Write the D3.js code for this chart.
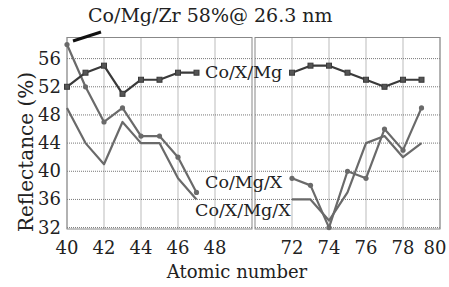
<!DOCTYPE html>
<html>
<head>
<meta charset="utf-8">
<script src="https://cdn.jsdelivr.net/npm/d3@7"></script>
<style>
  body { margin: 0; background: #fff; }
  text { font-family: "DejaVu Serif", "Liberation Serif", serif; fill: #222; }
</style>
</head>
<body>
<svg id="chart" width="449" height="287"></svg>
<script>
// data
const leftZ = [40, 41, 42, 43, 44, 45, 46, 47];
const rightZ = [72, 73, 74, 75, 76, 77, 78, 79];
const coXMgLeft = [52, 54, 55, 51, 53, 53, 54, 54];
const coXMgRight = [54, 55, 55, 54, 53, 52, 53, 53];
const coMgXLeft = [58, 52, 47, 49, 45, 45, 42, 37];
const coMgXRight = [39, 38, 32, 40, 39, 46, 43, 49];
const coXMgXLeft = [49, 44, 41, 47, 44, 44, 39, 36];
const coXMgXRight = [36, 36, 33, 37, 44, 45, 42, 44];
const yTicks = [32, 36, 40, 44, 48, 52, 56];
const leftTicks = [40, 42, 44, 46, 48];
const rightTicks = [72, 74, 76, 78, 80];

const svg = d3.select("#chart");
const W = 449;
const plotTop = 37.5, plotBottom = 229;
const y = d3.scaleLinear().domain([31.8, 59]).range([plotBottom, plotTop]);
const xl = d3.scaleLinear().domain([40, 50]).range([67, 252]);
const xr = d3.scaleLinear().domain([70, 80]).range([255, 440]);

const panels = [
  { x: xl, ticks: leftTicks, z: leftZ, series: [coXMgXLeft, coMgXLeft, coXMgLeft] },
  { x: xr, ticks: rightTicks, z: rightZ, series: [coXMgXRight, coMgXRight, coXMgRight] }
];

const styles = [
  { color: "#6a6a6a", marker: null },
  { color: "#6a6a6a", marker: "circle" },
  { color: "#3a3a3a", marker: "square" }
];

panels.forEach(p => {
  const g = svg.append("g");
  const [x0, x1] = p.x.range();
  // grid
  g.selectAll(".hg").data(yTicks).join("line")
    .attr("x1", x0).attr("x2", x1)
    .attr("y1", d => y(d)).attr("y2", d => y(d))
    .attr("stroke", "#777").attr("stroke-width", 1).attr("stroke-dasharray", "1,1");
  g.selectAll(".vg").data(p.ticks).join("line")
    .attr("x1", d => p.x(d)).attr("x2", d => p.x(d))
    .attr("y1", plotTop).attr("y2", plotBottom)
    .attr("stroke", "#777").attr("stroke-width", 1).attr("stroke-dasharray", "1,1");
  // frame
  g.append("rect").attr("x", x0).attr("y", plotTop)
    .attr("width", x1 - x0).attr("height", plotBottom - plotTop)
    .attr("fill", "none").attr("stroke", "#888").attr("stroke-width", 1);
  // x tick labels (last one pulled in so it stays on the page)
  g.selectAll(".xt").data(p.ticks).join("text")
    .attr("x", d => Math.min(p.x(d), W - 14)).attr("y", 254)
    .attr("text-anchor", "middle").attr("font-size", 18)
    .text(d => d);

  p.series.forEach((vals, i) => {
    const st = styles[i];
    const pts = p.z.map((z, k) => [p.x(z), y(vals[k])]);
    g.append("path").attr("d", d3.line()(pts))
      .attr("fill", "none").attr("stroke", st.color).attr("stroke-width", 2.2)
      .attr("stroke-linejoin", "round");
    if (st.marker === "circle") {
      g.selectAll(null).data(pts).join("circle")
        .attr("cx", d => d[0]).attr("cy", d => d[1]).attr("r", 2.6)
        .attr("fill", st.color);
    } else if (st.marker === "square") {
      g.selectAll(null).data(pts).join("rect")
        .attr("x", d => d[0] - 2.5).attr("y", d => d[1] - 2.5)
        .attr("width", 5).attr("height", 5)
        .attr("fill", "#555").attr("stroke", st.color).attr("stroke-width", 1);
    }
  });
});

// y tick labels
svg.selectAll(".yt").data(yTicks).join("text")
  .attr("x", 61).attr("y", d => y(d) + 6)
  .attr("text-anchor", "end").attr("font-size", 18)
  .text(d => d);

// axis titles
svg.append("text").attr("x", 237).attr("y", 278)
  .attr("text-anchor", "middle").attr("font-size", 18)
  .text("Atomic number");
svg.append("text")
  .attr("transform", "translate(33,152) rotate(-90)")
  .attr("text-anchor", "middle").attr("font-size", 20)
  .text("Reflectance (%)");

// series labels
svg.append("text").attr("x", 205).attr("y", 78).attr("font-size", 17.5).text("Co/X/Mg");
svg.append("text").attr("x", 205).attr("y", 188).attr("font-size", 17.5).text("Co/Mg/X");
svg.append("text").attr("x", 195).attr("y", 216).attr("font-size", 17.5).text("Co/X/Mg/X");

// annotation
svg.append("line").attr("x1", 73).attr("y1", 41).attr("x2", 101).attr("y2", 32)
  .attr("stroke", "#111").attr("stroke-width", 3);
svg.append("text").attr("x", 88).attr("y", 22).attr("font-size", 19)
  .text("Co/Mg/Zr 58%@ 26.3 nm");
</script>
</body>
</html>
